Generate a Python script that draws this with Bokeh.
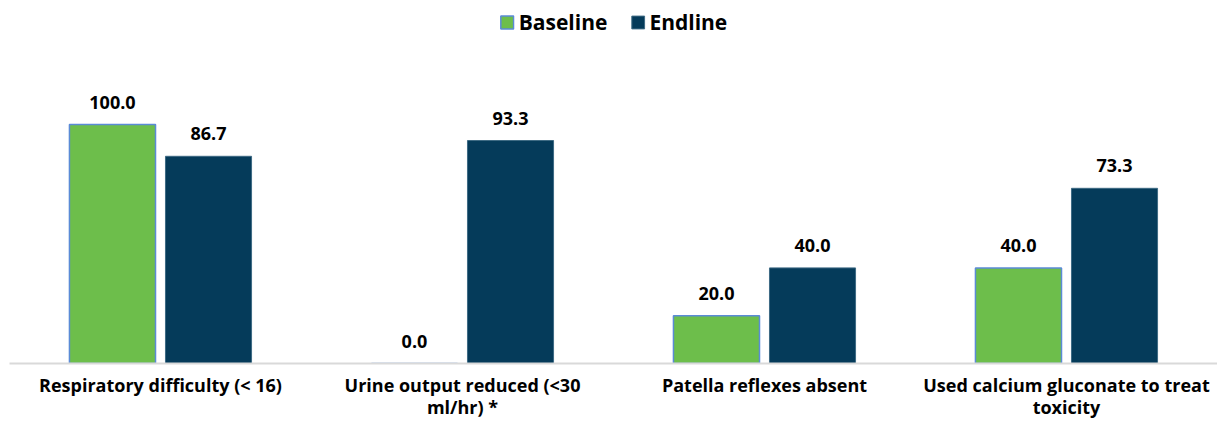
from bokeh.plotting import figure
from bokeh.models import ColumnDataSource, FactorRange, LabelSet, Legend, LegendItem
from bokeh.core.properties import value
from bokeh.transform import dodge
from bokeh.embed import file_html
from bokeh.resources import INLINE

categories = ["Respiratory difficulty (< 16)", "Urine output reduced (<30\nml/hr) *",
              "Patella reflexes absent", "Used calcium gluconate to treat\ntoxicity"]
baseline = [100.0, 0.0, 20.0, 40.0]
endline = [86.7, 93.3, 40.0, 73.3]

src = ColumnDataSource(dict(
    cat=categories, base=baseline, end=endline,
    base_lbl=[f"{v:.1f}" for v in baseline],
    end_lbl=[f"{v:.1f}" for v in endline],
))

FONT = "Open Sans"
GREEN = "#6DBE4B"
NAVY = "#053B5A"

H = 423
p = figure(x_range=FactorRange(*categories, range_padding=0), y_range=(0, 149.8),
           width=1217, height=H, output_backend="svg", toolbar_location=None,
           min_border_left=9, min_border_right=0, min_border_top=5, min_border_bottom=H - 363)

rb = p.vbar(x=dodge("cat", -0.159, range=p.x_range), top="base", width=0.285, source=src,
            fill_color=GREEN, line_color="#5B8BD6", line_width=1.5)
re = p.vbar(x=dodge("cat", 0.159, range=p.x_range), top="end", width=0.285, source=src,
            fill_color=NAVY, line_color="#3E6A84", line_width=1)

for off, col, lab in [(-0.159, "base", "base_lbl"), (0.159, "end", "end_lbl")]:
    p.add_layout(LabelSet(x=dodge("cat", off, range=p.x_range), y=col, text=lab, source=src,
                          text_align="center", text_baseline="bottom", y_offset=16,
                          text_font=value(FONT), text_font_size="18px", text_font_style="bold",
                          text_color="#000000"))

legend = Legend(items=[LegendItem(label="Baseline", renderers=[rb]),
                       LegendItem(label="Endline", renderers=[re])],
                location="top_center", orientation="horizontal",
                label_text_font=FONT, label_text_font_size="21px", label_text_font_style="bold",
                label_text_color="#000000", glyph_width=16, glyph_height=16, spacing=22,
                border_line_alpha=0, background_fill_alpha=0, margin=1, padding=2,
                label_standoff=4)
p.add_layout(legend)

p.xgrid.grid_line_color = None
p.ygrid.grid_line_color = None
p.yaxis.visible = False
p.outline_line_color = None
p.xaxis.axis_line_color = "#D9D9D9"
p.xaxis.axis_line_width = 2
p.xaxis.major_tick_line_color = None
p.xaxis.minor_tick_line_color = None
p.xaxis.major_tick_out = 0
p.xaxis.major_tick_in = 0
p.xaxis.major_label_text_font = FONT
p.xaxis.major_label_text_font_size = "18px"
p.xaxis.major_label_text_font_style = "bold"
p.xaxis.major_label_text_color = "#000000"
p.xaxis.major_label_text_line_height = 0.95
p.xaxis.major_label_standoff = 9

open("out.html", "w").write(file_html(p, INLINE))
